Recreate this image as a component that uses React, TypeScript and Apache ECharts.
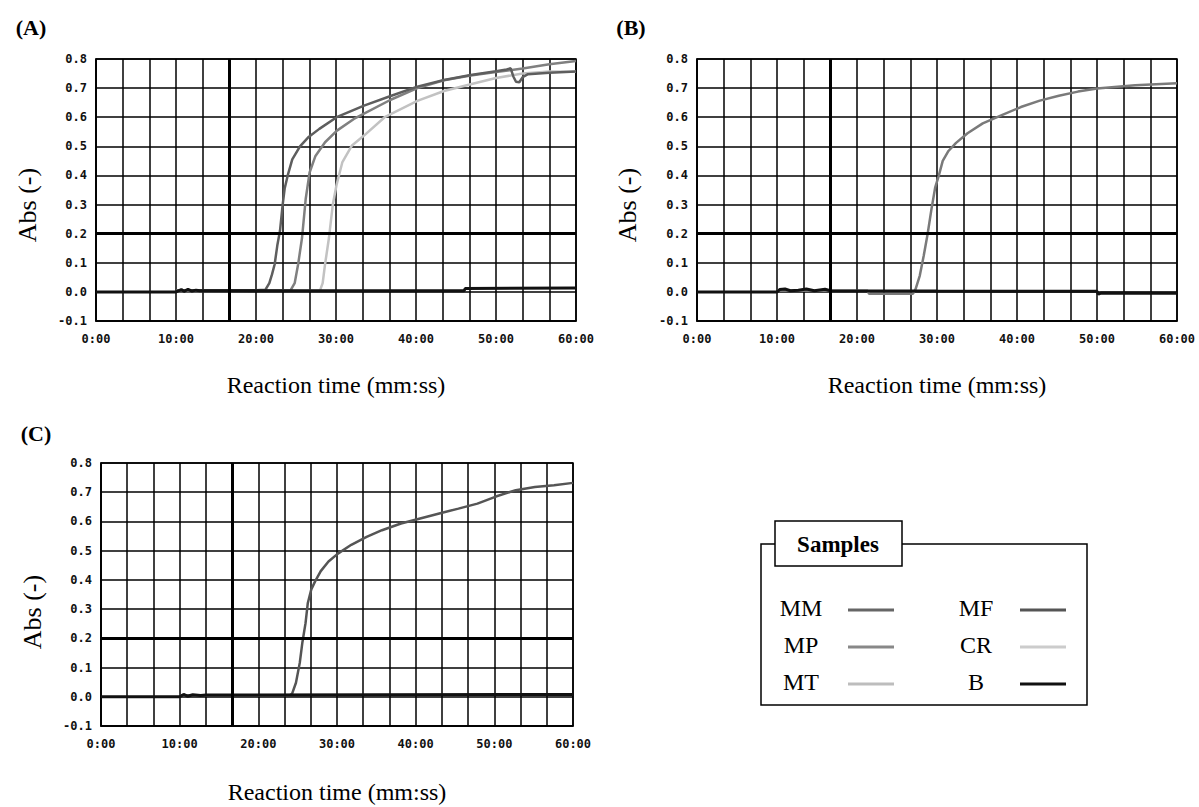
import React, { useEffect, useRef } from "react";
import * as echarts from "echarts";

// ---------- data (time in seconds, absorbance) ----------
const timeLabels = ["0:00", "10:00", "20:00", "30:00", "40:00", "50:00", "60:00"];
const absTickLabels = ["-0.1", "0.0", "0.1", "0.2", "0.3", "0.4", "0.5", "0.6", "0.7", "0.8"];

// Panel A
const mmA: [number, number][] = [
  [600, 0.005], [900, 0.006], [1200, 0.006], [1270, 0.007], [1300, 0.03], [1320, 0.06], [1340, 0.095],
  [1360, 0.16], [1380, 0.21], [1400, 0.3], [1415, 0.355], [1438, 0.4], [1472, 0.455], [1530, 0.5],
  [1590, 0.53], [1675, 0.56], [1805, 0.6], [2010, 0.64], [2210, 0.673], [2410, 0.705], [2610, 0.728],
  [2810, 0.745], [3000, 0.758], [3080, 0.764], [3110, 0.768], [3130, 0.74], [3150, 0.722], [3175, 0.72],
  [3200, 0.738], [3240, 0.748], [3400, 0.753], [3600, 0.757],
];
const mpA: [number, number][] = [
  [600, 0.004], [1200, 0.005], [1460, 0.006], [1490, 0.03], [1516, 0.095], [1545, 0.185], [1573, 0.32],
  [1602, 0.41], [1646, 0.467], [1718, 0.514], [1807, 0.554], [1934, 0.594], [2010, 0.612], [2210, 0.66],
  [2410, 0.7], [2610, 0.727], [2810, 0.743], [3000, 0.755], [3200, 0.767], [3400, 0.782], [3600, 0.793],
];
const mtA: [number, number][] = [
  [600, 0.003], [1200, 0.004], [1680, 0.005], [1700, 0.03], [1718, 0.095], [1747, 0.185], [1776, 0.3],
  [1804, 0.367], [1848, 0.446], [1920, 0.503], [2010, 0.537], [2165, 0.6], [2410, 0.656], [2610, 0.69],
  [2810, 0.713], [3000, 0.735], [3200, 0.75], [3400, 0.757], [3600, 0.756],
];
const blankA: [number, number][] = [
  [0, 0], [600, 0], [640, 0.008], [660, 0.002], [690, 0.009], [720, 0.003], [750, 0.006], [780, 0.004],
  [900, 0.004], [1800, 0.004], [2760, 0.004], [2770, 0.012], [3600, 0.013],
];

// Panel B
const mfB: [number, number][] = [
  [600, 0.004], [1280, 0.004], [1290, -0.006], [1620, -0.006], [1640, 0.01], [1671, 0.056], [1700, 0.123],
  [1729, 0.197], [1757, 0.28], [1786, 0.358], [1814, 0.4], [1843, 0.45], [1886, 0.484], [1943, 0.512],
  [2029, 0.545], [2143, 0.579], [2286, 0.607], [2429, 0.635], [2571, 0.657], [2714, 0.674], [2857, 0.688],
  [3000, 0.699], [3286, 0.71], [3600, 0.717],
];
const blankB: [number, number][] = [
  [0, 0], [600, 0], [620, 0.008], [660, 0.01], [700, 0.004], [760, 0.006], [820, 0.01], [880, 0.004],
  [960, 0.009], [1000, 0.004], [1800, 0.003], [3000, 0.002], [3010, -0.008], [3030, -0.004], [3600, -0.005],
];

// Panel C
const crC: [number, number][] = [
  [600, 0.004], [1440, 0.005], [1457, 0.01], [1487, 0.048], [1516, 0.116], [1536, 0.186], [1560, 0.252],
  [1577, 0.32], [1603, 0.366], [1633, 0.395], [1676, 0.43], [1735, 0.463], [1807, 0.49], [1909, 0.52],
  [2026, 0.547], [2143, 0.57], [2288, 0.593], [2434, 0.61], [2580, 0.627], [2726, 0.644], [2871, 0.661],
  [3017, 0.686], [3163, 0.707], [3309, 0.718], [3455, 0.724], [3600, 0.732],
];
const blankC: [number, number][] = [
  [0, 0], [600, 0], [630, 0.008], [660, 0.002], [700, 0.007], [760, 0.004], [800, 0.006], [3600, 0.008],
];

const legendNames = ["MM", "MP", "MT", "MF", "CR", "B"];
const legendColors = ["#666666", "#888888", "#bdbdbd", "#555555", "#cccccc", "#111111"];

const thresholdTime = 1000;
const thresholdAbs = 0.2;

// ---------- chart ----------
const serif = '"Liberation Serif", "Times New Roman", serif';
const mono = '"DejaVu Sans Mono", "Liberation Mono", monospace';

function xAxis(gridIndex: number) {
  return {
    type: "value",
    gridIndex,
    min: 0,
    max: 3600,
    interval: 200,
    axisLine: { show: true, onZero: false, lineStyle: { color: "#000", width: 1.5 } },
    axisTick: { show: false },
    splitLine: { show: true, lineStyle: { color: "#000", width: 1.5 } },
    axisLabel: {
      margin: 12,
      color: "#111",
      fontFamily: mono,
      fontWeight: "bold",
      fontSize: 12,
      showMinLabel: true,
      showMaxLabel: true,
      formatter: (v: number) => (Math.round(v) % 600 === 0 ? timeLabels[Math.round(v / 600)] : ""),
    },
  };
}

function yAxis(gridIndex: number) {
  return {
    type: "value",
    gridIndex,
    min: -0.1,
    max: 0.8,
    interval: 0.1,
    axisLine: { show: true, lineStyle: { color: "#000", width: 1.5 } },
    axisTick: { show: false },
    splitLine: { show: true, lineStyle: { color: "#000", width: 1.5 } },
    axisLabel: {
      margin: 9,
      color: "#111",
      fontFamily: mono,
      fontWeight: "bold",
      fontSize: 12,
      showMinLabel: true,
      showMaxLabel: true,
      formatter: (v: number) => absTickLabels[Math.round((v + 0.1) / 0.1)],
    },
  };
}

function curve(name: string, data: [number, number][], idx: number, color: string, width = 2.5) {
  return {
    name,
    type: "line",
    xAxisIndex: idx,
    yAxisIndex: idx,
    data,
    showSymbol: false,
    symbol: "none",
    silent: true,
    lineStyle: { color, width },
    itemStyle: { color },
  };
}

function blank(data: [number, number][], idx: number) {
  return {
    ...curve("B", data, idx, "#111111", 3),
    markLine: {
      silent: true,
      symbol: ["none", "none"],
      label: { show: false },
      lineStyle: { color: "#000", width: 3, type: "solid" },
      data: [{ xAxis: thresholdTime }, { yAxis: thresholdAbs }],
    },
  };
}

function text(x: number, y: number, t: string, font: string, extra: any = {}) {
  return {
    type: "text",
    x,
    y,
    ...extra,
    style: { text: t, font, fill: "#000", textAlign: "center", textVerticalAlign: "middle", align: "center", verticalAlign: "middle" },
  };
}

function legendGraphic() {
  const els: any[] = [];
  els.push({ type: "rect", shape: { x: 761, y: 544, width: 326, height: 161 }, style: { fill: "#fff", stroke: "#000", lineWidth: 1.5 } });
  els.push({ type: "rect", shape: { x: 775, y: 521, width: 127, height: 45 }, style: { fill: "#fff", stroke: "#000", lineWidth: 1.5 } });
  els.push(text(838, 544, "Samples", `bold 23px ${serif}`));
  const rows = [608, 645, 682];
  legendNames.forEach((n, i) => {
    const col = i < 3 ? 0 : 1;
    const y = rows[i % 3];
    const tx = col === 0 ? 801 : 976;
    const lx = col === 0 ? 848 : 1020;
    els.push(text(tx, y, n, `24px ${serif}`));
    els.push({ type: "line", shape: { x1: lx, y1: y + 2, x2: lx + 46, y2: y + 2 }, style: { stroke: legendColors[i], lineWidth: 3 } });
  });
  return els;
}

export default function App() {
  const ref = useRef<HTMLDivElement>(null);
  useEffect(() => {
    if (!ref.current) return;
    const chart = echarts.init(ref.current, undefined, { renderer: "svg" });
    const option: any = {
      animation: false,
      backgroundColor: "#fff",
      grid: [
        { left: 96, top: 59, width: 480, height: 262, show: true, borderColor: "#000", borderWidth: 1.5 },
        { left: 697, top: 59, width: 480, height: 262, show: true, borderColor: "#000", borderWidth: 1.5 },
        { left: 101, top: 463, width: 472, height: 263, show: true, borderColor: "#000", borderWidth: 1.5 },
      ],
      xAxis: [xAxis(0), xAxis(1), xAxis(2)],
      yAxis: [yAxis(0), yAxis(1), yAxis(2)],
      series: [
        curve("MT", mtA, 0, "#c2c2c2"),
        curve("MP", mpA, 0, "#808080"),
        curve("MM", mmA, 0, "#5e5e5e"),
        blank(blankA, 0),
        curve("MF", mfB, 1, "#7a7a7a"),
        blank(blankB, 1),
        curve("CR", crC, 2, "#555555"),
        blank(blankC, 2),
      ],
      graphic: [
        text(31, 27, "(A)", `bold 22px ${serif}`),
        text(631, 27, "(B)", `bold 22px ${serif}`),
        text(36, 433, "(C)", `bold 22px ${serif}`),
        text(27, 205, "Abs (-)", `26px ${serif}`, { rotation: Math.PI / 2 }),
        text(627, 205, "Abs (-)", `26px ${serif}`, { rotation: Math.PI / 2 }),
        text(32, 612, "Abs (-)", `26px ${serif}`, { rotation: Math.PI / 2 }),
        text(336, 385, "Reaction time (mm:ss)", `24px ${serif}`),
        text(937, 385, "Reaction time (mm:ss)", `24px ${serif}`),
        text(337, 792, "Reaction time (mm:ss)", `24px ${serif}`),
        ...legendGraphic(),
      ],
    };
    chart.setOption(option);
    return () => chart.dispose();
  }, []);
  return <div ref={ref} style={{ position: "fixed", left: 0, top: 0, width: 1199, height: 807 }} />;
}
